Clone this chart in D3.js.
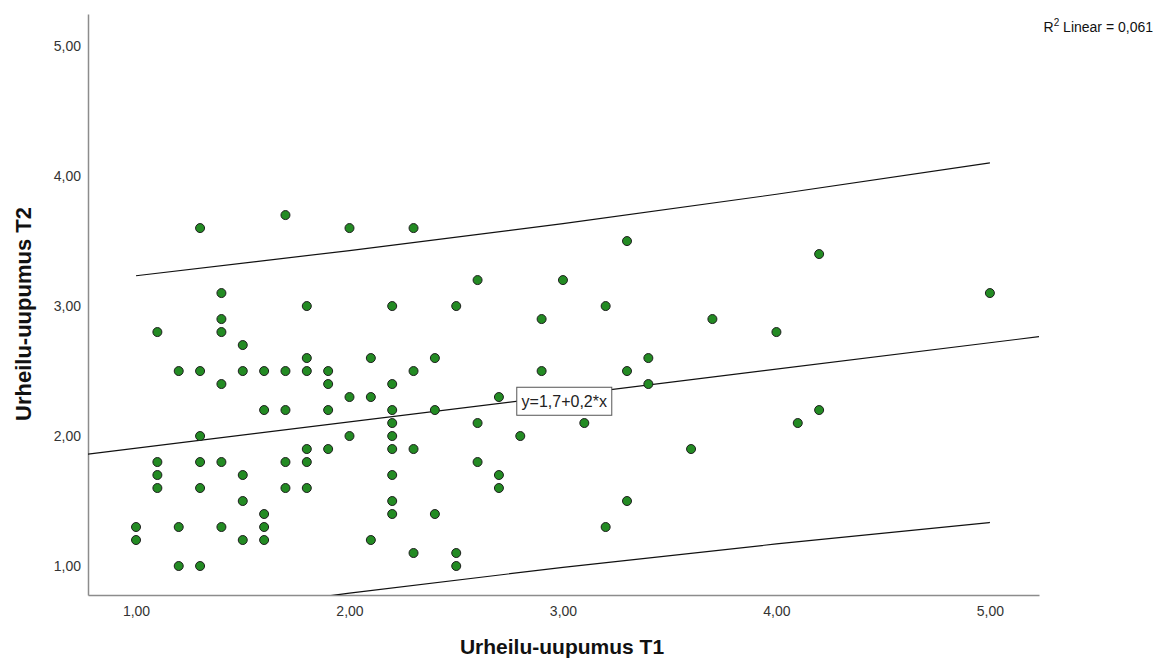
<!DOCTYPE html>
<html>
<head>
<meta charset="utf-8">
<script src="https://cdn.jsdelivr.net/npm/d3@7"></script>
<style>
  body { margin: 0; background: #fff; }
  text { font-family: "Liberation Sans", Arial, sans-serif; }
</style>
</head>
<body>
<svg id="chart" width="1156" height="661"></svg>
<script>
"use strict";

// Observed scores, one entry per respondent (T1, T2)
var t1 = [1.0, 1.0,
  1.1, 1.1, 1.1, 1.1,
  1.2, 1.2, 1.2,
  1.3, 1.3, 1.3, 1.3, 1.3, 1.3,
  1.4, 1.4, 1.4, 1.4, 1.4, 1.4,
  1.5, 1.5, 1.5, 1.5, 1.5,
  1.6, 1.6, 1.6, 1.6, 1.6,
  1.7, 1.7, 1.7, 1.7, 1.7,
  1.8, 1.8, 1.8, 1.8, 1.8, 1.8,
  1.9, 1.9, 1.9, 1.9,
  2.0, 2.0, 2.0,
  2.1, 2.1, 2.1,
  2.2, 2.2, 2.2, 2.2, 2.2, 2.2, 2.2, 2.2, 2.2,
  2.3, 2.3, 2.3, 2.3,
  2.4, 2.4, 2.4,
  2.5, 2.5, 2.5,
  2.6, 2.6, 2.6,
  2.7, 2.7, 2.7,
  2.8,
  2.9, 2.9,
  3.0,
  3.1,
  3.2, 3.2,
  3.3, 3.3, 3.3,
  3.4, 3.4,
  3.6,
  3.7,
  4.0,
  4.1,
  4.2, 4.2,
  5.0];
var t2 = [1.3, 1.2,
  2.8, 1.8, 1.7, 1.6,
  2.5, 1.3, 1.0,
  3.6, 2.5, 2.0, 1.8, 1.6, 1.0,
  3.1, 2.9, 2.8, 2.4, 1.8, 1.3,
  2.7, 2.5, 1.7, 1.5, 1.2,
  2.5, 2.2, 1.4, 1.3, 1.2,
  3.7, 2.5, 2.2, 1.8, 1.6,
  3.0, 2.6, 2.5, 1.9, 1.8, 1.6,
  2.5, 2.4, 2.2, 1.9,
  3.6, 2.3, 2.0,
  2.6, 2.3, 1.2,
  3.0, 2.4, 2.2, 2.1, 2.0, 1.9, 1.7, 1.5, 1.4,
  3.6, 2.5, 1.9, 1.1,
  2.6, 2.2, 1.4,
  3.0, 1.1, 1.0,
  3.2, 2.1, 1.8,
  2.3, 1.7, 1.6,
  2.0,
  2.9, 2.5,
  3.2,
  2.1,
  3.0, 1.3,
  3.5, 2.5, 1.5,
  2.6, 2.4,
  1.9,
  2.9,
  2.8,
  2.1,
  3.4, 2.2,
  3.1];

// Fit line and prediction interval
var fitIntercept = 1.703;
var fitSlope = 0.203;
var bandX = [1.0, 2.0, 3.0, 4.0, 5.0];
var bandUpper = [3.233, 3.427, 3.634, 3.860, 4.101];
var bandLower = [0.579, 0.791, 0.990, 1.170, 1.335];

var xTicks = [1, 2, 3, 4, 5];
var yTicks = [1, 2, 3, 4, 5];
var fitLabel = "y=1,7+0,2*x";
var r2Value = "0,061";
var xTitle = "Urheilu-uupumus T1";
var yTitle = "Urheilu-uupumus T2";

var svg = d3.select("#chart");
var plotLeft = 88, plotRight = 1039, plotTop = 14, plotBottom = 595;

var x = d3.scaleLinear().domain([0.775, 5.230]).range([plotLeft, plotRight]);
var y = d3.scaleLinear().domain([0.777, 5.247]).range([plotBottom, plotTop]);
var fmt = function(d) { return d3.format(".2f")(d).replace(".", ","); };

svg.append("defs").append("clipPath").attr("id", "plot-clip")
  .append("rect")
  .attr("x", plotLeft).attr("y", plotTop)
  .attr("width", plotRight - plotLeft).attr("height", plotBottom - plotTop);

// axes
var xAxis = svg.append("g")
  .attr("transform", "translate(0," + plotBottom + ")")
  .call(d3.axisBottom(x).tickValues(xTicks).tickFormat(fmt).tickSize(0).tickPadding(11));
var yAxis = svg.append("g")
  .attr("transform", "translate(" + plotLeft + ",0)")
  .call(d3.axisLeft(y).tickValues(yTicks).tickFormat(fmt).tickSize(0).tickPadding(7));
[xAxis, yAxis].forEach(function(a) {
  a.select(".domain").attr("stroke", "#8c8c8c").attr("stroke-width", 1.5);
  a.selectAll("text").attr("font-size", "14px").attr("fill", "#333")
    .style("font-family", "'Liberation Sans', Arial, sans-serif");
});

var plot = svg.append("g").attr("clip-path", "url(#plot-clip)");

// prediction interval lines
var band = d3.line().curve(d3.curveMonotoneX)
  .x(function(d) { return x(d[0]); })
  .y(function(d) { return y(d[1]); });
[bandUpper, bandLower].forEach(function(vals) {
  plot.append("path")
    .datum(bandX.map(function(v, i) { return [v, vals[i]]; }))
    .attr("d", band)
    .attr("fill", "none").attr("stroke", "#111").attr("stroke-width", 1.2);
});

// fit line across the full x range
var xd = x.domain();
plot.append("line")
  .attr("x1", x(xd[0])).attr("y1", y(fitIntercept + fitSlope * xd[0]))
  .attr("x2", x(xd[1])).attr("y2", y(fitIntercept + fitSlope * xd[1]))
  .attr("stroke", "#111").attr("stroke-width", 1.2);

// points
plot.selectAll("circle")
  .data(t1.map(function(v, i) { return [v, t2[i]]; }))
  .enter().append("circle")
  .attr("cx", function(d) { return x(d[0]); })
  .attr("cy", function(d) { return y(d[1]); })
  .attr("r", 4.5)
  .attr("fill", "#238b23")
  .attr("stroke", "#1e1e1e")
  .attr("stroke-width", 1);

// fit equation label
var lx = 2.8, ly = fitIntercept + fitSlope * 2.8;
var lab = svg.append("g").attr("transform", "translate(" + (x(lx) - 4) + "," + (y(ly) - 14) + ")");
lab.append("rect").attr("x", 0.5).attr("y", 0.5).attr("width", 95).attr("height", 28)
  .attr("fill", "#fff").attr("stroke", "#555").attr("stroke-width", 1);
lab.append("text").attr("x", 48).attr("y", 20).attr("text-anchor", "middle")
  .attr("font-size", "16px").attr("fill", "#222").text(fitLabel);

// R squared note
var r2 = svg.append("text").attr("x", 1153).attr("y", 32)
  .attr("text-anchor", "end").attr("font-size", "14px").attr("fill", "#111");
r2.append("tspan").text("R");
r2.append("tspan").attr("font-size", "10px").attr("dy", -6).text("2");
r2.append("tspan").attr("dy", 6).text(" Linear = " + r2Value);

// axis titles
svg.append("text").attr("x", 562).attr("y", 654).attr("text-anchor", "middle")
  .attr("font-size", "21px").attr("font-weight", "bold").attr("fill", "#111").text(xTitle);
svg.append("text").attr("transform", "translate(31,314) rotate(-90)")
  .attr("text-anchor", "middle")
  .attr("font-size", "22px").attr("font-weight", "bold").attr("fill", "#111").text(yTitle);
</script>
</body>
</html>
